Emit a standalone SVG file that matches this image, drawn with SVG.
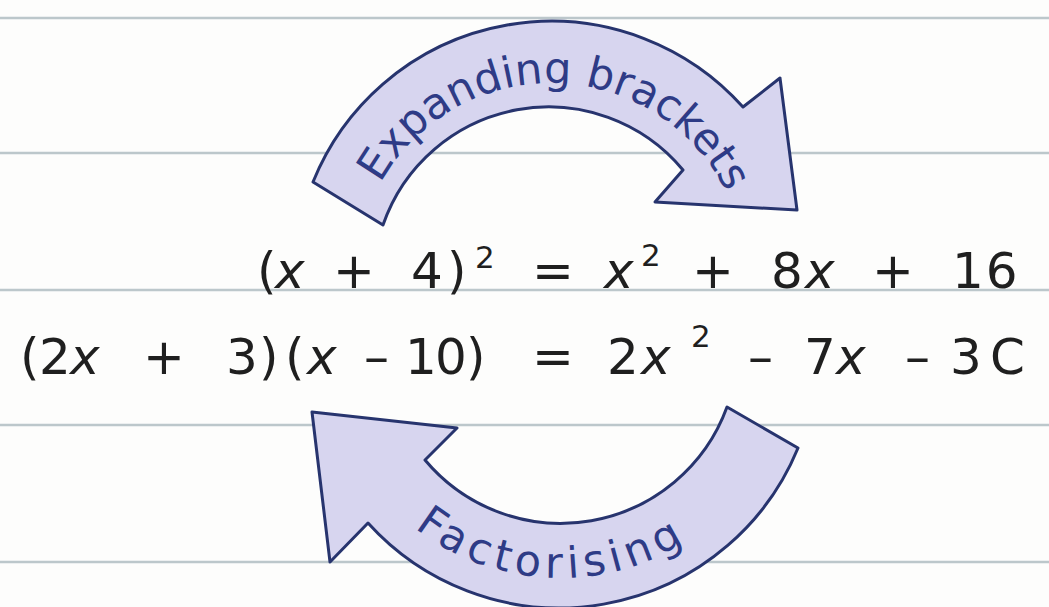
<svg xmlns="http://www.w3.org/2000/svg" width="1049" height="607" viewBox="0 0 1049 607">
<style>
.rule{stroke:#bcc7cb;stroke-width:2.5;fill:none}
.arrow{fill:#d7d5ef;stroke:#27346e;stroke-width:3;stroke-linejoin:round}
.alabel{font-family:"DejaVu Sans",sans-serif;fill:#2e3b86;font-size:43px}
.eq{font-family:"DejaVu Sans",sans-serif;fill:#1f1f1f;font-size:50px}
.v{font-style:italic}
.sup{font-size:31px}
</style>
<defs>
<path id="topArc" d="M 380.5 183.5 A 195 195 0 0 1 739.4 227.5"/>
<path id="botArc" d="M 408.3 522.8 A 236 236 0 0 0 711.7 522.8"/>
</defs>
<rect x="0" y="0" width="1049" height="607" fill="#fdfdfc"/>
<g id="ruled-lines">
<line class="rule" x1="0" y1="18" x2="1049" y2="18"/>
<line class="rule" x1="0" y1="153" x2="1049" y2="153"/>
<line class="rule" x1="0" y1="290" x2="1049" y2="290"/>
<line class="rule" x1="0" y1="425" x2="1049" y2="425"/>
<line class="rule" x1="0" y1="562" x2="1049" y2="562"/>
</g>
<g id="connectors">
<g id="expanding-arrow">
<path class="arrow" d="M 313 182 A 257 257 0 0 1 743 107 L 780 78 L 797 210 L 655 202 L 683 170 A 175 175 0 0 0 383 225 Z"/>
<text class="alabel"><textPath href="#topArc">Expanding brackets</textPath></text>
</g>
<g id="factorising-arrow">
<path class="arrow" d="M 727 407 A 177 177 0 0 1 425 460 L 457 428 L 312 412 L 330 562 L 368 523 A 258 258 0 0 0 798 448 Z"/>
<text class="alabel" letter-spacing="5.5"><textPath href="#botArc" startOffset="8">Factorising</textPath></text>
</g>
</g>
<g id="equation-1">
<text class="eq" y="288"><tspan x="257">(</tspan><tspan x="275" class="v">x</tspan><tspan x="333">+</tspan><tspan x="411">4</tspan><tspan x="447">)</tspan><tspan x="475" y="268" class="sup">2</tspan><tspan x="532" y="288">=</tspan><tspan x="604" class="v">x</tspan><tspan x="641" y="266" class="sup">2</tspan><tspan x="692" y="288">+</tspan><tspan x="771">8</tspan><tspan x="805" class="v">x</tspan><tspan x="872">+</tspan><tspan x="952" letter-spacing="2">16</tspan></text>
</g>
<g id="equation-2">
<text class="eq" y="374"><tspan x="20">(</tspan><tspan x="39">2</tspan><tspan x="70" class="v">x</tspan><tspan x="143">+</tspan><tspan x="226">3</tspan><tspan x="259">)</tspan><tspan x="285">(</tspan><tspan x="307" class="v">x</tspan><tspan x="364">–</tspan><tspan x="405">1</tspan><tspan x="435">0</tspan><tspan x="466">)</tspan><tspan x="532">=</tspan><tspan x="607">2</tspan><tspan x="641" class="v">x</tspan><tspan x="691" y="347" class="sup">2</tspan><tspan x="748" y="374">–</tspan><tspan x="804">7</tspan><tspan x="836" class="v">x</tspan><tspan x="905">–</tspan><tspan x="950">3</tspan><tspan x="990">C</tspan></text>
</g>
</svg>
